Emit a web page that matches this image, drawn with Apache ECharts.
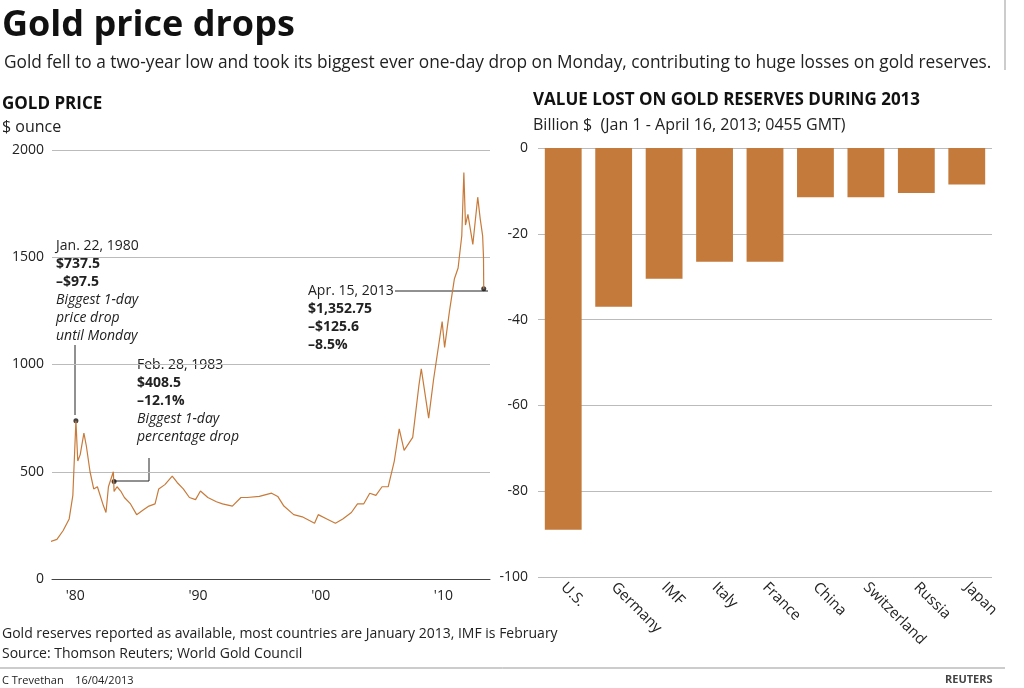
<!DOCTYPE html><html><head><meta charset="utf-8"><script src="https://cdn.jsdelivr.net/npm/echarts@6/dist/echarts.min.js"></script>
<style>body{margin:0;background:#fff}#c{width:1024px;height:688px}</style></head><body><div id="c"></div><script>
const goldYears=[1978.0,1978.5,1979.0,1979.5,1979.8,1980.05,1980.2,1980.4,1980.7,1980.9,1981.2,1981.5,1981.8,1982.3,1982.5,1982.7,1983.1,1983.16,1983.4,1983.7,1984,1984.5,1985,1985.5,1986,1986.5,1986.8,1987.3,1987.9,1988.3,1988.8,1989.3,1989.8,1990.2,1990.8,1991.5,1992,1992.8,1993.5,1994,1995,1996.0,1996.5,1997,1997.8,1998.5,1999.5,1999.8,2000.5,2001.2,2001.8,2002.5,2003,2003.5,2004,2004.5,2005,2005.5,2006,2006.4,2006.8,2007.5,2008.0,2008.2,2008.8,2009.2,2009.9,2010.1,2010.5,2010.9,2011.2,2011.5,2011.67,2011.8,2012.0,2012.4,2012.8,2013.0,2013.2,2013.27,2013.29];
const goldPrice=[175,185,225,280,390,737.5,550,580,680,620,500,420,430,340,310,430,500,408.5,430,410,380,350,300,320,340,350,420,440,480,450,420,380,370,410,380,360,350,340,380,380,385,400,385,340,300,290,260,300,280,260,280,310,350,350,400,390,430,430,550,700,600,660,900,980,750,930,1200,1080,1250,1400,1450,1600,1895,1650,1700,1560,1780,1680,1600,1500,1352.75];
const countries=['U.S.','Germany','IMF','Italy','France','China','Switzerland','Russia','Japan'];
const losses=[-89,-37,-30.5,-26.5,-26.5,-11.5,-11.5,-10.5,-8.5];
const gridC='#bbb', txt='#222', F='Open Sans';
const ch=echarts.init(document.getElementById('c'));
const ann=(x,y,lines)=>({type:'text',left:x,top:y,style:{text:lines,font:'14px "Open Sans"',fill:txt,lineHeight:18,rich:{b:{fontWeight:'bold',fontSize:14,fontFamily:F,lineHeight:18},i:{fontStyle:'italic',fontSize:14,fontFamily:F,lineHeight:18}}}});
ch.setOption({
animation:false,textStyle:{fontFamily:F},
grid:[{left:52,right:534,top:150,bottom:109},{left:538,right:32,top:148,bottom:111}],
xAxis:[{gridIndex:0,type:'value',min:1978.1,max:2013.8,interval:10,axisLine:{show:true,lineStyle:{color:'#444'}},axisTick:{show:false},splitLine:{show:false},
 axisLabel:{color:txt,fontSize:14,margin:10,customValues:[1980,1990,2000,2010],formatter:v=>"'"+String(v).slice(2)}},
 {gridIndex:1,type:'category',data:countries,axisLine:{show:false},axisTick:{show:false},axisLabel:{color:txt,fontSize:15,rotate:-45,interval:0,margin:8,align:'left'}}],
yAxis:[{gridIndex:0,min:0,max:2000,interval:500,axisLine:{show:false},axisTick:{show:false},splitLine:{lineStyle:{color:gridC}},axisLabel:{color:txt,fontSize:14,margin:8,formatter:v=>String(v)}},
 {gridIndex:1,min:-100,max:0,interval:20,axisLine:{show:false},axisTick:{show:false},splitLine:{lineStyle:{color:gridC}},axisLabel:{color:txt,fontSize:14,margin:10}}],
series:[{type:'line',xAxisIndex:0,yAxisIndex:0,data:goldYears.map((y,i)=>[y,goldPrice[i]]),symbol:'none',lineStyle:{color:'#c77a3a',width:1.2}},
 {type:'scatter',xAxisIndex:0,yAxisIndex:0,data:[[1980.05,737.5],[1983.16,455],[2013.29,1352.75]],symbolSize:5,itemStyle:{color:'#111'}},
 {type:'bar',xAxisIndex:1,yAxisIndex:1,data:losses,barWidth:'73%',itemStyle:{color:'#c47a3a'}}],
graphic:[
 {type:'text',left:2,top:8,style:{text:'Gold price drops',font:'bold 36px "Open Sans"',fill:'#111'}},
 {type:'text',left:4,top:55,style:{text:'Gold fell to a two-year low and took its biggest ever one-day drop on Monday, contributing to huge losses on gold reserves.',font:'17.3px "Open Sans"',fill:txt}},
 {type:'text',left:2,top:96,style:{text:'GOLD PRICE',font:'bold 17px "Open Sans"',fill:'#111'}},
 {type:'text',left:2,top:119,style:{text:'$ ounce',font:'16px "Open Sans"',fill:txt}},
 {type:'text',left:533,top:92,style:{text:'VALUE LOST ON GOLD RESERVES DURING 2013',font:'bold 17px "Open Sans"',fill:'#111'}},
 {type:'text',left:533,top:117,style:{text:'Billion $  (Jan 1 - April 16, 2013; 0455 GMT)',font:'16px "Open Sans"',fill:txt}},
 ann(56,237,'Jan. 22, 1980\n{b|$737.5}\n{b|–$97.5}\n{i|Biggest 1-day}\n{i|price drop}\n{i|until Monday}'),
 ann(137,356,'Feb. 28, 1983\n{b|$408.5}\n{b|–12.1%}\n{i|Biggest 1-day}\n{i|percentage drop}'),
 ann(308,282,'Apr. 15, 2013\n{b|$1,352.75}\n{b|–$125.6}\n{b|–8.5%}'),
 {type:'line',shape:{x1:75,y1:345,x2:75,y2:415},style:{stroke:'#222',lineWidth:1}},
 {type:'polyline',shape:{points:[[113,481],[149,481],[149,458]]},style:{stroke:'#222',lineWidth:1,fill:null}},
 {type:'line',shape:{x1:395,y1:291,x2:488,y2:291},style:{stroke:'#222',lineWidth:1}},
 {type:'line',shape:{x1:1005,y1:0,x2:1005,y2:70},style:{stroke:'#999',lineWidth:1}},
 {type:'text',left:2,top:624,style:{text:'Gold reserves reported as available, most countries are January 2013, IMF is February\nSource: Thomson Reuters; World Gold Council',font:'14px "Open Sans"',fill:txt,lineHeight:20}},
 {type:'line',shape:{x1:0,y1:668,x2:1005,y2:668},style:{stroke:'#999',lineWidth:1}},
 {type:'text',left:2,top:675,style:{text:'C Trevethan    16/04/2013',font:'11px "Open Sans"',fill:txt}},
 {type:'text',left:945,top:674,style:{text:'REUTERS',font:'bold 11px "Open Sans"',fill:'#444'}}
]});
</script></body></html>
